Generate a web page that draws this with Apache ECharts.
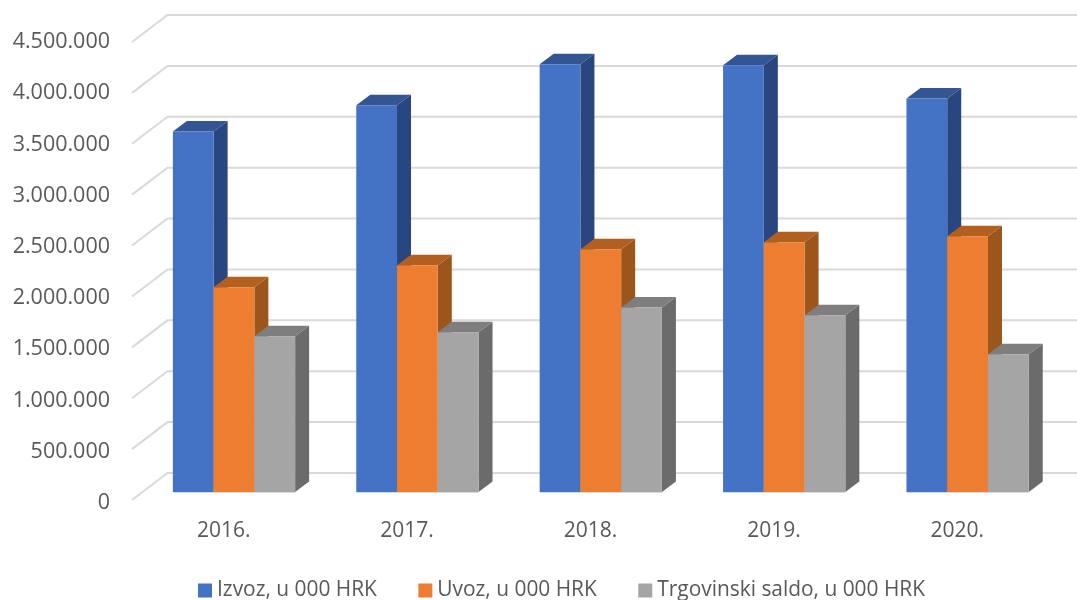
<!DOCTYPE html>
<html><head><meta charset="utf-8">
<style>html,body{margin:0;padding:0;background:#fff}#c{width:1077px;height:600px}</style>
<script src="https://cdn.jsdelivr.net/npm/echarts@6/dist/echarts.min.js"></script>
</head><body><div id="c"></div>
<script>
const categories = ['2016.','2017.','2018.','2019.','2020.'];
const izvoz = [3543000,3800000,4203000,4193000,3867000];
const uvoz = [2011000,2227000,2385000,2453000,2512000];
const saldo = [1530000,1569000,1814000,1736000,1353000];
const yTicks = [0,500000,1000000,1500000,2000000,2500000,3000000,3500000,4000000,4500000];
const seriesNames = ['Izvoz, u 000 HRK','Uvoz, u 000 HRK','Trgovinski saldo, u 000 HRK'];
const front = ['#4472C4','#ED7D31','#A5A5A5'];
const top_ = ['#335593','#B25F1F','#7E7E7E'];
const side = ['#294680','#9C561B','#6B6B6B'];
const FONT = '"Open Sans"';
const chart = echarts.init(document.getElementById('c'), null, {renderer:'canvas'});
const barDx = 10.3, barDy = -8, faceDx = 14, faceDy = -10.5, wallDx = 35.5, wallDy = -27;
function barRender(k){
  return function(params, api){
    const c = api.coord([api.value(0), api.value(1)]);
    const base = api.coord([api.value(0), 0]);
    const band = api.size([1,0])[0];
    const w = band/4.5;
    const x0 = c[0] - 1.5*w + k*w + barDx;
    const x1 = x0 + w;
    const yT = c[1] + barDy, yB = base[1] + barDy;
    return {type:'group', children:[
      {type:'polygon', shape:{points:[[x1,yT],[x1+faceDx,yT+faceDy],[x1+faceDx,yB+faceDy],[x1,yB]]}, style:{fill:side[k]}},
      {type:'polygon', shape:{points:[[x0,yT],[x0+faceDx,yT+faceDy],[x1+faceDx,yT+faceDy],[x1,yT]]}, style:{fill:top_[k]}},
      {type:'rect', shape:{x:x0,y:yT,width:w,height:yB-yT}, style:{fill:front[k]}},
      {type:'line', shape:{x1:x0,y1:yB+0.5,x2:x1,y2:yB+0.5}, style:{stroke:'#D5DBE6',lineWidth:1}}
    ]};
  };
}
function wallRender(params, api){
  const cs = params.coordSys;
  const y = api.coord([0, api.value(0)])[1];
  const xl = cs.x, xr = cs.x + cs.width;
  return {type:'polyline', shape:{points:[[xl,y],[xl+wallDx,y+wallDy],[xr+wallDx,y+wallDy]]},
    style:{stroke:'#D9D9D9',lineWidth:2,fill:null}};
}
chart.setOption({
  animation:false,
  backgroundColor:'#fff',
  color:front,
  grid:[{left:132,width:917,top:42,height:458},{left:132,width:917,top:42,height:461}],
  legend:{data:seriesNames, left:193, top:575, itemWidth:14, itemHeight:14, itemGap:41.5, icon:'rect',
    textStyle:{fontFamily:FONT,fontSize:20.9,color:'#595959'}},
  xAxis:[
    {type:'category',data:categories,axisLine:{show:false},axisTick:{show:false},
      axisLabel:{margin:21,fontFamily:FONT,fontSize:21,color:'#595959'}},
    {type:'category',gridIndex:1,data:categories,show:false}
  ],
  yAxis:[
    {type:'value',min:0,max:4500000,interval:500000,axisLine:{show:false},axisTick:{show:false},splitLine:{show:false},axisLabel:{show:false}},
    {type:'value',gridIndex:1,min:0,max:4500000,interval:500000,axisLine:{show:false},axisTick:{show:false},splitLine:{show:false},
      axisLabel:{margin:22,fontFamily:FONT,fontSize:21.5,color:'#595959',
        formatter:v=>String(v).replace(/\B(?=(\d{3})+$)/g,'.')}}
  ],
  series:[
    {type:'custom',name:'walls',z:1,silent:true,encode:{x:1,y:0},data:yTicks.map(v=>[v,0]),renderItem:wallRender,clip:false},
    ...[izvoz,uvoz,saldo].map((arr,k)=>({
      type:'custom',name:seriesNames[k],z:2+k,clip:false,encode:{x:0,y:1},
      itemStyle:{color:front[k]},
      data:arr.map((v,i)=>[i,v]),renderItem:barRender(k)
    }))
  ]
});
</script></body></html>
